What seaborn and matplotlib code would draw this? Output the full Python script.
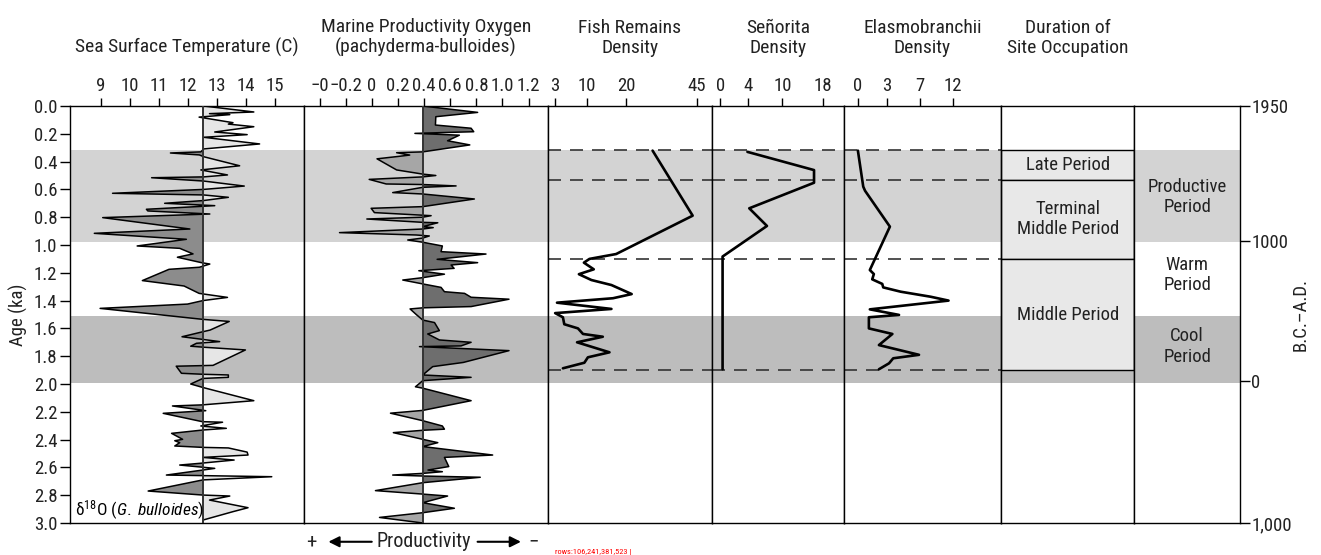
import numpy as np
import matplotlib
matplotlib.use("Agg")
import matplotlib.pyplot as plt
import seaborn as sns
from matplotlib import font_manager
from matplotlib.ticker import NullLocator, FixedLocator

# ---------------------------------------------------------------
# Data (age in ka)
# ---------------------------------------------------------------
sst_age = [0.000, 0.043, 0.055, 0.062, 0.080, 0.120, 0.130, 0.149, 0.187, 0.206,
           0.225, 0.273, 0.309, 0.330, 0.338, 0.352, 0.365, 0.430, 0.460, 0.496,
           0.510, 0.516, 0.540, 0.576, 0.600, 0.628, 0.640, 0.657, 0.680, 0.700,
           0.717, 0.743, 0.755, 0.777, 0.803, 0.885, 0.916, 0.959, 1.007, 1.024,
           1.064, 1.088, 1.127, 1.137, 1.160, 1.175, 1.256, 1.295, 1.348, 1.377,
           1.400, 1.425, 1.456, 1.535, 1.550, 1.612, 1.624, 1.660, 1.672, 1.695,
           1.707, 1.728, 1.735, 1.755, 1.866, 1.872, 1.923, 1.930, 1.935, 1.952,
           1.960, 2.000, 2.025, 2.120, 2.150, 2.158, 2.192, 2.211, 2.271, 2.275,
           2.302, 2.319, 2.331, 2.355, 2.398, 2.408, 2.422, 2.446, 2.456, 2.460,
           2.490, 2.511, 2.528, 2.547, 2.571, 2.583, 2.607, 2.619, 2.655, 2.667,
           2.690, 2.770, 2.799, 2.806, 2.835, 2.890, 2.919, 2.979, 3.000]
sst_temp = [12.55, 14.28, 12.75, 13.45, 12.39, 13.56, 13.40, 14.28, 12.93, 14.05,
            12.55, 14.48, 12.55, 12.45, 11.40, 12.40, 12.55, 13.79, 12.45, 13.37,
            12.55, 10.75, 12.55, 13.95, 12.55, 9.40, 12.55, 13.40, 12.55, 11.20,
            12.93, 10.57, 10.62, 12.76, 9.06, 12.07, 8.77, 11.95, 10.25, 11.72,
            12.18, 11.64, 12.47, 12.76, 12.40, 11.35, 10.43, 11.87, 12.39, 13.37,
            12.52, 11.99, 8.97, 12.52, 13.43, 12.77, 12.52, 11.80, 12.25, 13.10,
            12.30, 12.10, 12.52, 13.99, 12.87, 11.60, 11.78, 12.52, 13.40, 13.40,
            12.52, 12.10, 12.52, 14.28, 12.52, 11.47, 12.62, 11.15, 12.50, 13.20,
            12.45, 13.33, 12.52, 11.44, 11.82, 11.55, 11.72, 11.55, 12.52, 13.40,
            14.05, 14.08, 12.52, 13.60, 12.40, 11.72, 12.93, 12.52, 11.26, 14.90,
            12.52, 10.63, 12.52, 13.45, 12.75, 14.08, 13.55, 12.52, 12.52]
sst_base = 12.52

prod_age = [0.000, 0.046, 0.077, 0.137, 0.160, 0.185, 0.197, 0.210, 0.250, 0.280,
            0.330, 0.336, 0.353, 0.362, 0.380, 0.460, 0.490, 0.500, 0.510, 0.528,
            0.561, 0.565, 0.575, 0.585, 0.623, 0.633, 0.669, 0.724, 0.736, 0.767,
            0.789, 0.800, 0.813, 0.837, 0.840, 0.868, 0.875, 0.885, 0.911, 0.928,
            0.935, 0.950, 0.964, 0.980, 1.007, 1.048, 1.065, 1.103, 1.127, 1.144,
            1.168, 1.185, 1.210, 1.235, 1.252, 1.280, 1.305, 1.336, 1.348, 1.376,
            1.390, 1.443, 1.452, 1.460, 1.500, 1.540, 1.558, 1.616, 1.640, 1.683,
            1.700, 1.726, 1.731, 1.760, 1.845, 1.875, 1.935, 1.952, 1.976, 2.020,
            2.030, 2.120, 2.190, 2.210, 2.264, 2.302, 2.325, 2.333, 2.350, 2.398,
            2.422, 2.450, 2.511, 2.528, 2.594, 2.619, 2.631, 2.643, 2.655, 2.662,
            2.671, 2.710, 2.767, 2.792, 2.806, 2.854, 2.894, 2.926, 2.960, 3.000]
prod_val = [0.39, 0.81, 0.49, 0.487, 0.76, 0.78, 0.33, 0.67, 0.58, 0.75,
            0.39, 0.19, 0.29, 0.21, 0.04, 0.19, 0.39, 0.49, 0.39, -0.02,
            0.11, 0.39, 0.645, 0.39, 0.16, 0.39, 0.785, 0.39, -0.005, 0.02,
            0.454, 0.39, -0.038, 0.39, 0.505, 0.39, 0.47, 0.39, -0.247, 0.34,
            0.44, 0.39, 0.275, 0.39, 0.54, 0.53, 0.874, 0.50, 0.81, 0.607,
            0.63, 0.36, 0.556, 0.39, 0.237, 0.39, 0.53, 0.556, 0.71, 0.76,
            1.05, 0.76, 0.39, 0.293, 0.34, 0.39, 0.48, 0.517, 0.428, 0.517,
            0.76, 0.683, 0.365, 1.05, 0.70, 0.466, 0.39, 0.76, 0.39, 0.334,
            0.39, 0.76, 0.39, 0.143, 0.39, 0.54, 0.556, 0.39, 0.165, 0.39,
            0.505, 0.39, 0.925, 0.556, 0.589, 0.43, 0.54, 0.39, 0.16, 0.39,
            0.83, 0.39, 0.028, 0.39, 0.58, 0.39, 0.632, 0.39, 0.059, 0.39]
prod_base = 0.39

fish_age = [0.321, 0.789, 1.065, 1.100, 1.127, 1.175, 1.210, 1.252, 1.288, 1.353,
            1.383, 1.415, 1.460, 1.490, 1.520, 1.570, 1.600, 1.640, 1.660, 1.700,
            1.772, 1.808, 1.847, 1.887]
fish_val = [29.3, 43.5, 17.4, 10.6, 9.3, 11.7, 8.2, 11.1, 16.2, 21.9,
            16.6, 3.4, 16.2, 3.0, 4.7, 5.0, 8.0, 9.1, 14.0, 7.8,
            15.7, 10.2, 9.4, 4.7]

senorita_age = [0.330, 0.461, 0.552, 0.736, 0.863, 1.083, 1.894]
senorita_val = [3.9, 16.3, 16.3, 4.2, 7.3, 0.34, 0.34]

elasmo_age = [0.321, 0.580, 0.610, 0.868, 1.180, 1.209, 1.247, 1.280, 1.305, 1.336,
              1.372, 1.400, 1.463, 1.503, 1.520, 1.600, 1.640, 1.720, 1.790, 1.815,
              1.851, 1.894]
elasmo_val = [0.0, 0.56, 0.75, 3.4, 1.25, 1.67, 1.5, 2.55, 2.65, 4.7,
              8.6, 11.3, 1.25, 4.5, 1.15, 1.15, 3.7, 2.2, 6.9, 3.8,
              3.3, 2.2]

# climate bands and archaeological periods
band_start = [0.32, 1.51]
band_end = [0.98, 1.99]
period_breaks = [0.32, 0.53, 1.10, 1.90]
occ_labels = ["Late Period", "Terminal\nMiddle Period", "Middle Period"]
occ_start = [0.32, 0.53, 1.10]
occ_end = [0.53, 1.10, 1.90]
climate_labels = ["Productive\nPeriod", "Warm\nPeriod", "Cool\nPeriod"]
climate_mid = [0.655, 1.215, 1.73]

titles = ["Sea Surface Temperature (C)", "Marine Productivity Oxygen\n(pachyderma-bulloides)",
          "Fish Remains\nDensity", "Señorita\nDensity", "Elasmobranchii\nDensity",
          "Duration of\nSite Occupation", ""]
sst_ticks = [9, 10, 11, 12, 13, 14, 15]
prod_ticks = [-0.4, -0.2, 0.0, 0.2, 0.4, 0.6, 0.8, 1.0, 1.2]
prod_ticklabels = ["−0", "−0.2", "0", "0.2", "0.4", "0.6", "0.8", "1.0", "1.2"]
fish_ticks = [3, 10, 20, 45]
senorita_ticks = [0, 4, 10, 18]
elasmo_ticks = [0, 3, 7, 12]
age_ticks = np.round(np.arange(0, 3.01, 0.2), 1)
year_pos = [0.0, 0.97, 1.98, 3.0]
year_labels = ["1950", "1000", "0", "1,000"]

# ---------------------------------------------------------------
# Style
# ---------------------------------------------------------------
sns.set_theme(style="white")
avail = {f.name for f in font_manager.fontManager.ttflist}
narrow = next((f for f in ["Roboto Condensed", "Liberation Sans Narrow",
                           "DejaVu Sans Condensed"] if f in avail), "DejaVu Sans")
plt.rcParams["font.family"] = [narrow, "DejaVu Sans"]
plt.rcParams["mathtext.fontset"] = "custom"
plt.rcParams["mathtext.rm"] = narrow
plt.rcParams["mathtext.it"] = narrow + ":italic"
FS = 13.5
INK = "#222222"

fig = plt.figure(figsize=(13.21, 5.55), dpi=100)
widths = [234, 245, 164, 132, 158, 133, 106]
gs = fig.add_gridspec(1, 7, width_ratios=widths, left=70 / 1321, right=1240 / 1321,
                      bottom=32 / 555, top=449 / 555, wspace=0)
axes = [fig.add_subplot(gs[0, i]) for i in range(7)]


def knot_scale(ax, vals, pos):
    ax.set_xscale("function", functions=(lambda v: np.interp(v, vals, pos),
                                         lambda p: np.interp(p, pos, vals)))


for i, ax in enumerate(axes):
    for s, e, c in zip(band_start, band_end, ["#d3d3d3", "#bdbdbd"]):
        ax.axhspan(s, e, color=c, lw=0, zorder=0)
    for sp in ax.spines.values():
        sp.set_visible(True)
        sp.set_color("black")
        sp.set_linewidth(1.0)
    ax.tick_params(axis="x", bottom=False, labelbottom=False, top=True, labeltop=True,
                   direction="out", length=6, width=1, color="black", pad=2,
                   labelsize=FS, labelcolor=INK)
    if titles[i]:
        ax.annotate(titles[i], xy=(0.5, 1), xycoords="axes fraction", xytext=(0, 35),
                    textcoords="offset points", ha="center", va="bottom",
                    fontsize=FS + 0.5, color=INK, linespacing=1.15)

# --- SST ---
ax = axes[0]
t = np.array(sst_temp)
ax.fill_betweenx(sst_age, t, sst_base, where=t <= sst_base, interpolate=True,
                 color="#8c8c8c", lw=0, zorder=1)
ax.fill_betweenx(sst_age, t, sst_base, where=t >= sst_base, interpolate=True,
                 color="#e6e6e6", lw=0, zorder=1)
sns.lineplot(x=sst_temp, y=sst_age, orient="y", estimator=None, color="black",
             lw=1.1, ax=ax, zorder=2)
ax.axvline(sst_base, color="#333333", lw=1.4, zorder=3)
ax.set_xlim(7.93, 16.0)
ax.set_xticks(sst_ticks)
ax.set_xticklabels([str(v) for v in sst_ticks])
ax.text(0.022, 0.03, r"δ$^{18}$O ($\it{G.\ bulloides}$)", transform=ax.transAxes,
        fontsize=12.5, ha="left", va="center", color="black", zorder=4)

# --- Marine productivity ---
ax = axes[1]
p = np.array(prod_val)
ax.fill_betweenx(prod_age, p, prod_base, where=p <= prod_base, interpolate=True,
                 color="#a6a6a6", lw=0, zorder=1)
ax.fill_betweenx(prod_age, p, prod_base, where=p >= prod_base, interpolate=True,
                 color="#6e6e6e", lw=0, zorder=1)
sns.lineplot(x=prod_val, y=prod_age, orient="y", estimator=None, color="black",
             lw=1.1, ax=ax, zorder=2)
ax.axvline(prod_base, color="#333333", lw=1.4, zorder=3)
ax.set_xlim(-0.522, 1.35)
ax.set_xticks(prod_ticks)
ax.set_xticklabels(prod_ticklabels)
yb = -0.045
ax.text(0.031, yb, "+", transform=ax.transAxes, ha="center", va="center", fontsize=15)
ax.text(0.94, yb, "−", transform=ax.transAxes, ha="center", va="center", fontsize=15)
ax.text(0.49, yb, "Productivity", transform=ax.transAxes, ha="center", va="center",
        fontsize=FS + 1, color=INK)
arrow = dict(arrowstyle="-|>", color="black", lw=1.5, mutation_scale=16)
ax.annotate("", xy=(0.09, yb), xytext=(0.29, yb), xycoords="axes fraction",
            arrowprops=arrow, annotation_clip=False)
ax.annotate("", xy=(0.90, yb), xytext=(0.70, yb), xycoords="axes fraction",
            arrowprops=arrow, annotation_clip=False)

# --- density curves ---
density = [
    (axes[2], fish_age, fish_val, fish_ticks, [0, 3, 10, 20, 45, 60],
     [540.3, 554, 586, 625.3, 696, 738.5], (1.47, 50.3)),
    (axes[3], senorita_age, senorita_val, senorita_ticks, [-2, 0, 4, 10, 18, 25],
     [705.3, 719.3, 747.3, 781.7, 822, 857.3], (-1.19, 22.2)),
    (axes[4], elasmo_age, elasmo_val, elasmo_ticks, [-2, 0, 3, 7, 12, 20],
     [838.2, 857.3, 886, 919.3, 952.7, 1006.1], (-1.49, 19.23)),
]
for ax, ages, vals, ticks, kv, kp, lim in density:
    knot_scale(ax, kv, kp)
    for b in period_breaks:
        ax.axhline(b, color="#333333", lw=1.2, ls=(0, (7.8, 5.4)), zorder=1)
    sns.lineplot(x=vals, y=ages, orient="y", estimator=None, color="black",
                 lw=1.9, ax=ax, zorder=2)
    ax.set_xlim(*lim)
    ax.set_xticks(ticks)
    ax.set_xticklabels([str(v) for v in ticks])

# --- duration of site occupation ---
ax = axes[5]
ax.set_xlim(0, 1)
ax.set_xticks([])
for lab, s, e in zip(occ_labels, occ_start, occ_end):
    ax.barh((s + e) / 2, 1, height=e - s, left=0, color="#e8e8e8",
            edgecolor="black", lw=1.0, zorder=2)
    ax.text(0.5, (s + e) / 2, lab, ha="center", va="center", fontsize=FS,
            color=INK, linespacing=1.15, zorder=3)

# --- climate periods ---
ax = axes[6]
ax.set_xlim(0, 1)
ax.set_xticks([])
for lab, m in zip(climate_labels, climate_mid):
    ax.text(0.5, m, lab, ha="center", va="center", fontsize=FS, color=INK,
            linespacing=1.15)

# --- y axes ---
for i, ax in enumerate(axes):
    ax.set_ylim(3.0, 0.0)
    if 0 < i < 6:
        ax.set_yticks([])
        ax.tick_params(axis="y", left=False, right=False, labelleft=False,
                       labelright=False)

ax = axes[0]
ax.yaxis.set_ticks_position("left")
ax.set_yticks(age_ticks)
ax.set_yticklabels([f"{v:.1f}" for v in age_ticks])
ax.tick_params(axis="y", which="major", left=True, right=False, labelleft=True,
               labelright=False, direction="out", length=7, width=1, color="black",
               labelsize=FS, labelcolor=INK, pad=2)
ax.set_ylabel("Age (ka)", fontsize=FS, color=INK)
ax.yaxis.set_label_coords(-0.18, 0.5)

ax = axes[6]
ax.yaxis.set_ticks_position("right")
ax.yaxis.set_major_locator(FixedLocator(year_pos))
ax.set_yticklabels(year_labels)
ax.tick_params(axis="y", which="major", right=True, left=False, labelright=True,
               labelleft=False, direction="out", length=7, width=1, color="black",
               labelsize=FS, labelcolor=INK, pad=1)
ax.yaxis.set_label_position("right")
ax.set_ylabel("B.C.–A.D.", fontsize=FS, color=INK)
ax.yaxis.set_label_coords(1.49, 0.5)

for ax in axes:
    ax.xaxis.set_minor_locator(NullLocator())
    ax.yaxis.set_minor_locator(NullLocator())

# --- temporary check: what draws just right of the last column? ---
fig.canvas.draw()
renderer = fig.canvas.get_renderer()
buf = np.asarray(fig.canvas.buffer_rgba())[:, :, :3].astype(float)
col = buf[:, 1244, :].mean(axis=1)
rows = [int(r) for r in np.where(col < 150)[0]]
hits = []
for r in rows:
    if 120 < r < 230:
        yd = 555 - r
        for a in fig.findobj():
            if a is fig or a is fig.patch:
                continue
            try:
                bb = a.get_window_extent(renderer)
            except Exception:
                continue
            if bb is None or not a.get_visible():
                continue
            if bb.x0 - 1 <= 1244 <= bb.x1 + 1 and bb.y0 - 1 <= yd <= bb.y1 + 1 \
                    and bb.width < 200 and bb.height < 200:
                owner = axes.index(a.axes) if getattr(a, "axes", None) in axes else -1
                hits.append(f"{type(a).__name__}@ax{owner}")
        break
fig.text(0.42, 0.003, "rows:" + ",".join(map(str, rows[:40])) + " | " +
         ";".join(sorted(set(hits)))[:300], fontsize=6, color="red")

fig.savefig("out.png", dpi=100)
